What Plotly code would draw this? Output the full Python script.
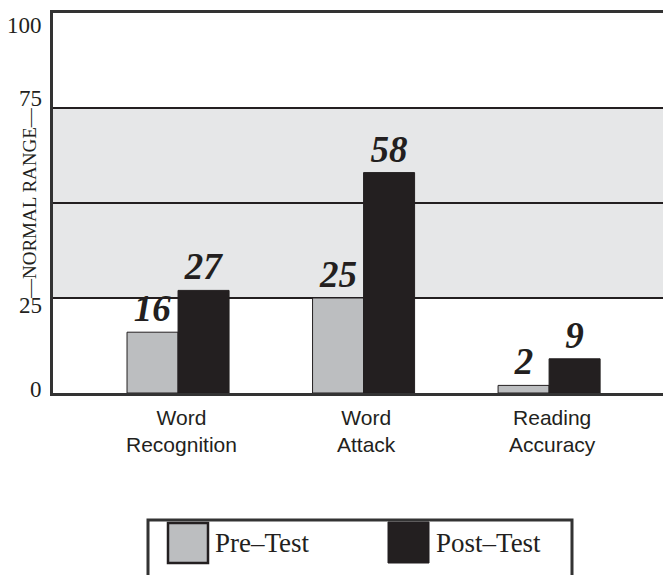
import plotly.graph_objects as go

# Scores by reading skill, before and after the program
CATEGORIES = ["Word Recognition", "Word Attack", "Reading Accuracy"]
CATEGORY_TEXT = ["Word<br>Recognition", "Word<br>Attack", "Reading<br>Accuracy"]
PRE_NAME = "Pre\u2013Test"
POST_NAME = "Post\u2013Test"
PRE_SCORES = [16, 25, 2]
POST_SCORES = [27, 58, 9]

Y_TICKS = [0, 25, 75, 100]
NORMAL_RANGE = [25, 75]
GRID_VALUES = [25, 50, 75]
RANGE_LABEL = "\u2014NORMAL RANGE\u2014"

PRE_COLOR = "#bcbec0"
POST_COLOR = "#231f20"
INK = "#231f20"
BAND_COLOR = "#e6e7e8"
SERIF = "Liberation Serif, Times New Roman, serif"
SANS = "Liberation Sans, Arial, sans-serif"

# pixel geometry of the page
W, H = 663, 575
L, T, B = 53, 13, 182
PLOT_W = W - L
PLOT_H = H - T - B


def px_x(px):
    return (px - L) / PLOT_W


def px_y(py):
    return (H - B - py) / PLOT_H


value_font = dict(family=SERIF, size=37, color=INK, weight="bold", style="italic")

fig = go.Figure()
fig.add_bar(
    x=CATEGORIES, y=PRE_SCORES, name=PRE_NAME,
    text=[str(v) for v in PRE_SCORES], textposition="outside",
    textfont=value_font, cliponaxis=False, constraintext="none",
    marker=dict(color=PRE_COLOR, line=dict(color=INK, width=1)),
)
fig.add_bar(
    x=CATEGORIES, y=POST_SCORES, name=POST_NAME,
    text=[str(v) for v in POST_SCORES], textposition="outside",
    textfont=value_font, cliponaxis=False, constraintext="none",
    marker=dict(color=POST_COLOR, line=dict(color=INK, width=1)),
)

shapes = [
    # shaded normal range
    dict(type="rect", xref="paper", yref="y", x0=0, x1=1,
         y0=NORMAL_RANGE[0], y1=NORMAL_RANGE[1],
         fillcolor=BAND_COLOR, line=dict(width=0), layer="below"),
    # legend frame (open at the bottom edge of the page)
    dict(type="path", xref="paper", yref="paper",
         path=f"M {px_x(148)},{px_y(600)} L {px_x(148)},{px_y(520)} "
              f"L {px_x(572)},{px_y(520)} L {px_x(572)},{px_y(600)}",
         line=dict(color="#333333", width=3)),
    # legend swatches
    dict(type="rect", xref="paper", yref="paper",
         x0=px_x(168), x1=px_x(208), y0=px_y(563), y1=px_y(523),
         fillcolor=PRE_COLOR, line=dict(color=INK, width=2.5)),
    dict(type="rect", xref="paper", yref="paper",
         x0=px_x(388), x1=px_x(429), y0=px_y(563), y1=px_y(522),
         fillcolor=POST_COLOR, line=dict(color=POST_COLOR, width=1)),
]

annotations = []
# y tick labels
tick_shift = {0: 4, 25: -7, 75: 10, 100: -12}
for v in Y_TICKS:
    annotations.append(dict(
        x=px_x(44), y=v, xref="paper", yref="y", text=str(v),
        showarrow=False, xanchor="right", yanchor="middle", yshift=tick_shift[v],
        font=dict(family=SERIF, size=23, color=INK)))
# vertical range caption
annotations.append(dict(
    x=px_x(29), y=sum(NORMAL_RANGE) / 2, xref="paper", yref="y",
    text=RANGE_LABEL, textangle=-90, showarrow=False,
    xanchor="center", yanchor="middle",
    font=dict(family=SERIF, size=19, color=INK)))
# category labels
for cat, label in zip(CATEGORIES, CATEGORY_TEXT):
    annotations.append(dict(
        x=cat, y=0, xref="x", yref="paper", text=label, showarrow=False,
        xanchor="center", yanchor="top", xshift=3, yshift=-11,
        font=dict(family=SANS, size=21, color=INK)))
# legend labels
for name, px in [(PRE_NAME, 213), (POST_NAME, 434)]:
    annotations.append(dict(
        x=px_x(px), y=px_y(543), xref="paper", yref="paper", text=name,
        showarrow=False, xanchor="left", yanchor="middle",
        font=dict(family=SERIF, size=27, color=INK)))

fig.update_layout(
    width=W, height=H,
    margin=dict(l=L, r=0, t=T, b=B),
    paper_bgcolor="white", plot_bgcolor="white",
    barmode="group", bargap=0.45, bargroupgap=0,
    showlegend=False,
    shapes=shapes, annotations=annotations,
    xaxis=dict(type="category", range=[-0.674, 2.614], showticklabels=False,
               ticks="", showgrid=False, showline=True, linecolor="#333333",
               linewidth=3, mirror=True, zeroline=False, fixedrange=True),
    yaxis=dict(range=[0, 100], tickvals=GRID_VALUES, showticklabels=False,
               ticks="", showgrid=True, gridcolor=INK, gridwidth=1.5,
               showline=True, linecolor="#333333", linewidth=3,
               zeroline=False, fixedrange=True),
)

fig.write_html("out.html", config={"displayModeBar": False})
